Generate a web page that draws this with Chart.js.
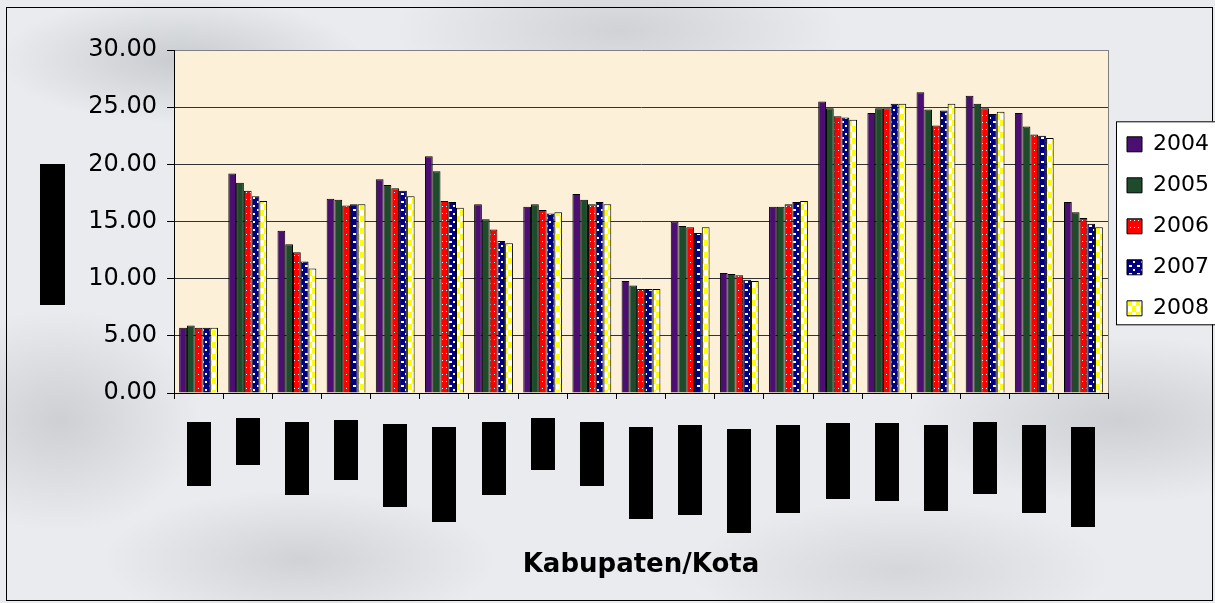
<!DOCTYPE html>
<html>
<head>
<meta charset="utf-8">
<script src="https://cdn.jsdelivr.net/npm/chart.js"></script>
<style>
    body {
        margin: 0;
        width: 1215px;
        height: 603px;
        overflow: hidden;
        background:
            radial-gradient(ellipse 260px 90px at 180px 60px, rgba(140, 144, 150, 0.35), transparent 70%),
            radial-gradient(ellipse 320px 110px at 620px 30px, rgba(150, 152, 158, 0.30), transparent 70%),
            radial-gradient(ellipse 300px 120px at 1120px 420px, rgba(140, 144, 150, 0.30), transparent 70%),
            radial-gradient(ellipse 280px 100px at 300px 560px, rgba(150, 152, 158, 0.30), transparent 70%),
            radial-gradient(ellipse 300px 100px at 900px 570px, rgba(150, 152, 158, 0.25), transparent 70%),
            radial-gradient(ellipse 200px 160px at 60px 420px, rgba(140, 144, 150, 0.30), transparent 70%),
            #e9ebee;
    }
    canvas { display: block; }
</style>
</head>
<body>
<canvas id="chart" width="1215" height="603"></canvas>
<script>
// categories are redacted in the source picture (black blocks), so no readable names
const categories = ['', '', '', '', '', '', '', '', '', '', '', '', '', '', '', '', '', '', ''];
const years = ['2004', '2005', '2006', '2007', '2008'];

const v2004 = [5.7, 19.2, 14.2, 17.0, 18.7, 20.7, 16.5, 16.3, 17.4, 9.8, 15.0, 10.5, 16.3, 25.5, 24.5, 26.3, 26.0, 24.5, 16.7];
const v2005 = [5.9, 18.4, 13.0, 16.9, 18.2, 19.4, 15.2, 16.5, 16.9, 9.4, 14.6, 10.4, 16.3, 24.9, 24.9, 24.8, 25.3, 23.3, 15.8];
const v2006 = [5.7, 17.7, 12.3, 16.4, 17.9, 16.8, 14.3, 16.0, 16.5, 9.1, 14.5, 10.3, 16.5, 24.2, 24.9, 23.4, 24.9, 22.6, 15.3];
const v2007 = [5.7, 17.2, 11.5, 16.5, 17.7, 16.7, 13.3, 15.7, 16.7, 9.1, 14.0, 9.9, 16.7, 24.1, 25.3, 24.7, 24.4, 22.5, 14.8];
const v2008 = [5.7, 16.8, 10.9, 16.5, 17.2, 16.2, 13.1, 15.8, 16.5, 9.1, 14.5, 9.8, 16.8, 23.9, 25.3, 25.3, 24.6, 22.3, 14.5];

const yTicks = [0, 5, 10, 15, 20, 25, 30];

const canvas = document.getElementById('chart');
const ctx = canvas.getContext('2d');

function makePattern(w, h, bg, paint) {
    const c = document.createElement('canvas');
    c.width = w;
    c.height = h;
    const g = c.getContext('2d');
    g.fillStyle = bg;
    g.fillRect(0, 0, w, h);
    paint(g);
    return ctx.createPattern(c, 'repeat');
}

const redDots = makePattern(4, 7, '#ff0000', g => {
    g.fillStyle = '#ffffff';
    g.fillRect(2, 3, 1, 1);
});
const navyWeave = makePattern(8, 8, '#000080', g => {
    g.fillStyle = '#ffffff';
    g.fillRect(1, 1, 3, 2);
    g.fillRect(5, 5, 2, 2);
});
const yellowCheck = makePattern(8, 12, '#ffffff', g => {
    g.fillStyle = '#ffff00';
    g.fillRect(0, 0, 4, 6);
    g.fillRect(4, 6, 4, 6);
});

const fills = ['#4b0f72', '#1e4b2b', redDots, navyWeave, yellowCheck];
const values = [v2004, v2005, v2006, v2007, v2008];

// rough extents of the blacked-out category labels, px below the x axis
const labelBlockTop = [29, 25, 29, 27, 31, 34, 29, 25, 29, 34, 32, 36, 32, 30, 30, 32, 29, 32, 34];
const labelBlockBottom = [93, 72, 102, 87, 114, 129, 102, 77, 93, 126, 122, 140, 120, 106, 108, 118, 101, 120, 134];

const decor = {
    id: 'decor',
    beforeDraw(chart) {
        const c = chart.ctx;
        const a = chart.chartArea;
        c.save();
        // outer frame
        c.strokeStyle = '#000000';
        c.lineWidth = 1;
        c.strokeRect(6.5, 7.5, chart.width - 9, chart.height - 10);
        // plot area
        c.fillStyle = '#fdf0d9';
        c.fillRect(a.left, a.top, a.right - a.left, a.bottom - a.top);
        c.strokeStyle = '#808080';
        c.beginPath();
        c.moveTo(a.right + 0.5, a.top);
        c.lineTo(a.right + 0.5, a.bottom);
        c.stroke();
        // legend box
        const hb = chart.legend.legendHitBoxes;
        if (hb && hb.length) {
            const top = hb[0].top - 12;
            const bottom = hb[hb.length - 1].top + hb[hb.length - 1].height + 5;
            const left = a.right + 8;
            c.fillStyle = '#ffffff';
            c.fillRect(left, top, chart.width - left + 2, bottom - top);
            c.strokeStyle = '#000000';
            c.strokeRect(left + 0.5, top + 0.5, chart.width - left + 2, bottom - top);
        }
        c.restore();
    },
    afterDraw(chart) {
        const c = chart.ctx;
        const a = chart.chartArea;
        const x = chart.scales.x;
        c.save();
        c.fillStyle = '#000000';
        categories.forEach((cat, i) => {
            const cx = x.getPixelForValue(i);
            c.fillRect(Math.round(cx - 12), a.bottom + labelBlockTop[i], 24, labelBlockBottom[i] - labelBlockTop[i]);
        });
        // y axis title, blacked out too
        c.fillRect(40, 164, 25, 141);
        c.restore();
    }
};

new Chart(canvas, {
    type: 'bar',
    data: {
        labels: categories,
        datasets: years.map((y, i) => ({
            label: y,
            data: values[i],
            backgroundColor: fills[i],
            borderColor: '#000000',
            borderWidth: 1,
            barPercentage: 1.0,
            categoryPercentage: 0.79
        }))
    },
    options: {
        responsive: false,
        animation: false,
        layout: {
            padding: { top: 50, left: 0, right: 0, bottom: 0 }
        },
        plugins: {
            tooltip: { enabled: false },
            legend: {
                position: 'right',
                fullSize: false,
                align: 'center',
                maxWidth: 107,
                title: {
                    display: true,
                    text: ' ',
                    font: { size: 8 },
                    padding: 0
                },
                labels: {
                    boxWidth: 15,
                    boxHeight: 15,
                    padding: 19,
                    color: '#000000',
                    font: { family: 'DejaVu Sans', size: 22 }
                }
            }
        },
        scales: {
            x: {
                grid: {
                    display: true,
                    drawOnChartArea: false,
                    drawTicks: true,
                    tickLength: 6,
                    tickColor: '#000000',
                    offset: true
                },
                border: { color: '#000000', width: 1 },
                ticks: { display: false },
                title: {
                    display: true,
                    text: 'Kabupaten/Kota',
                    color: '#000000',
                    font: { family: 'DejaVu Sans', size: 26, weight: 'bold' },
                    padding: { top: 0, bottom: 22 }
                },
                afterFit: scale => { scale.height = 210; }
            },
            y: {
                min: 0,
                max: 30,
                afterBuildTicks: scale => { scale.ticks = yTicks.map(v => ({ value: v })); },
                ticks: {
                    color: '#000000',
                    padding: 10,
                    font: { family: 'DejaVu Sans', size: 24 },
                    callback: value => value.toFixed(2)
                },
                grid: {
                    color: c => c.tick && c.tick.value === 30 ? '#808080' : '#333333',
                    tickColor: '#000000',
                    tickLength: 7
                },
                border: { color: '#000000', width: 1 },
                afterFit: scale => { scale.width = 174; }
            }
        }
    },
    plugins: [decor]
});
</script>
</body>
</html>
